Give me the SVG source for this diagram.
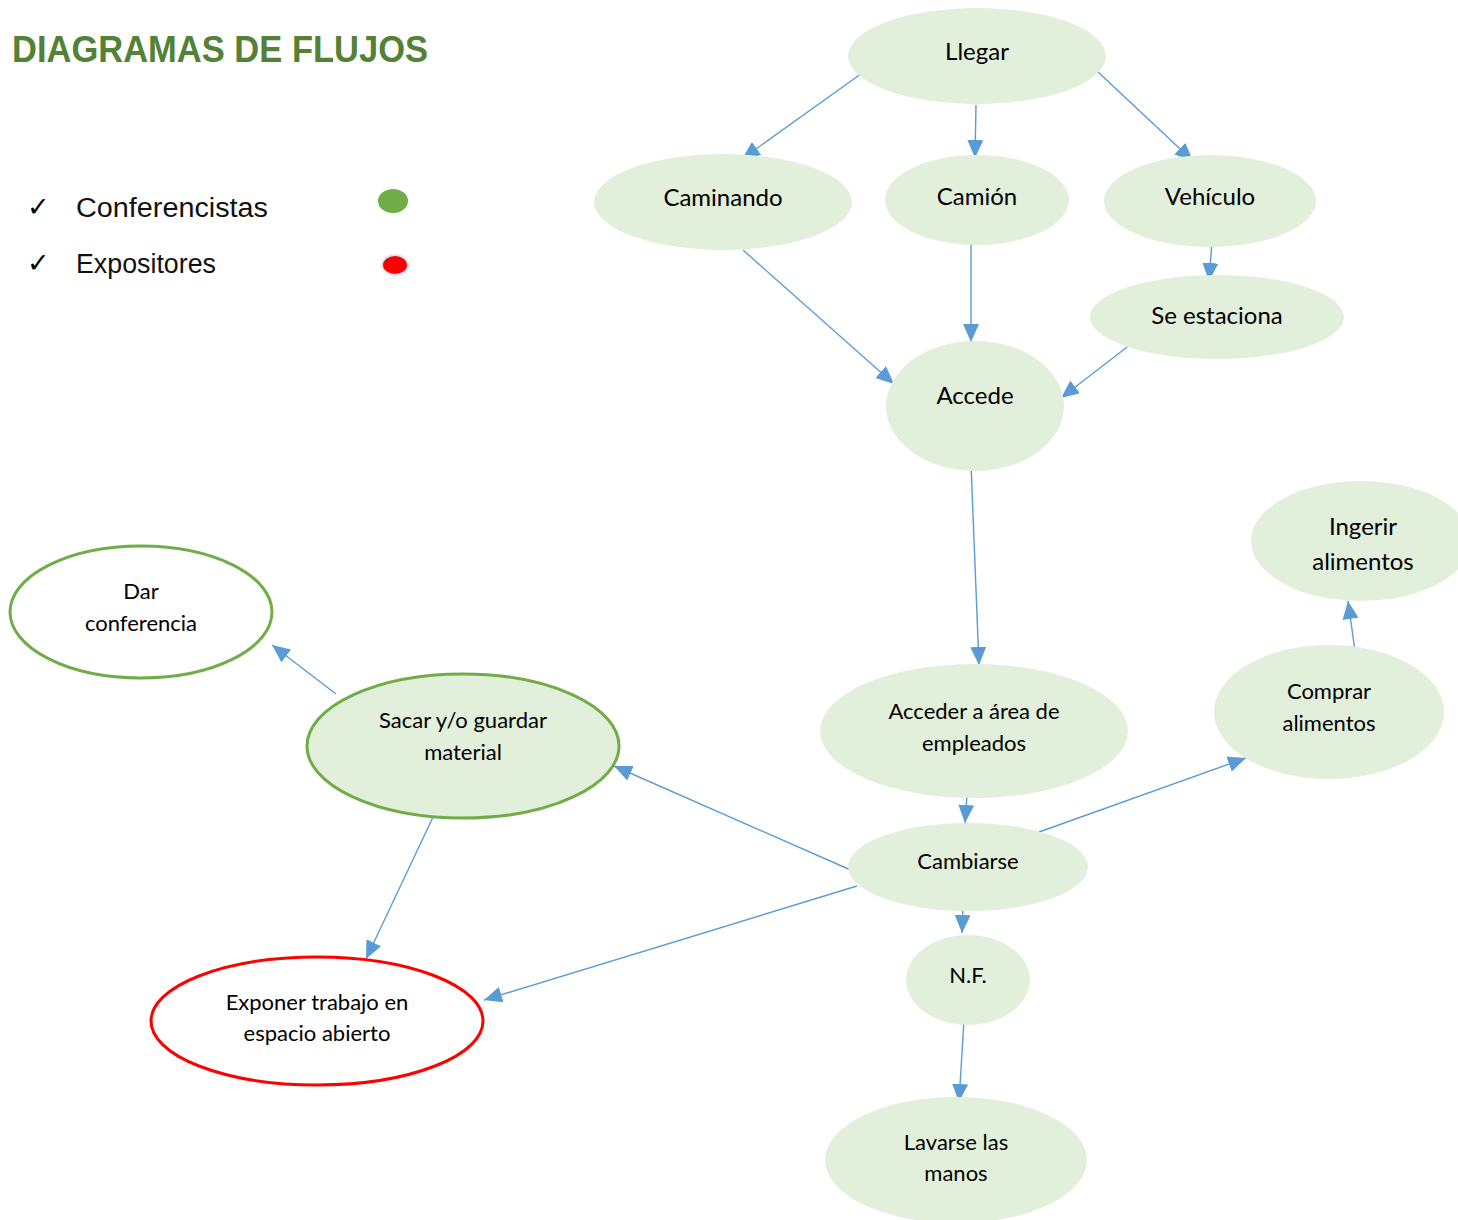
<svg xmlns="http://www.w3.org/2000/svg" width="1458" height="1220" viewBox="0 0 1458 1220">
<style>
.n{fill:#E2EFDA;stroke:none}
.g{stroke:#70AD47;stroke-width:3}
.r{fill:#FFFFFF;stroke:#FF0000;stroke-width:3}
.w{fill:#FFFFFF}
text{font-family:Lato,"Liberation Sans",sans-serif;fill:#000;text-anchor:middle}
.t1{font-size:24px}
.t2{font-size:22px}
.lg{font-family:"Liberation Sans",Arial,sans-serif;font-size:27px;text-anchor:start;fill:#111}
.ck{font-family:"DejaVu Sans",sans-serif;font-size:27px;text-anchor:start}
.e{stroke:#5B9BD5;stroke-width:1.4;fill:none;marker-end:url(#ah)}
</style>
<defs>
<marker id="ah" markerUnits="userSpaceOnUse" markerWidth="19" markerHeight="16" viewBox="0 0 19 16" refX="18" refY="8" orient="auto">
<path d="M0,0 L18,8 L0,16 Z" fill="#5B9BD5"/>
</marker>
</defs>
<rect width="1458" height="1220" fill="#FFFFFF"/>
<text x="12" y="62" style="font-family:'Liberation Sans',Arial,sans-serif;font-weight:bold;font-size:37px;fill:#538135;text-anchor:start" textLength="416" lengthAdjust="spacingAndGlyphs">DIAGRAMAS DE FLUJOS</text>
<g id="legend">
<text x="27" y="216" class="ck">✓</text>
<text x="76" y="217" class="lg" textLength="192" lengthAdjust="spacingAndGlyphs">Conferencistas</text>
<ellipse cx="393" cy="201" rx="15" ry="12" fill="#70AD47"/>
<text x="27" y="272" class="ck">✓</text>
<text x="76" y="273" class="lg" textLength="140" lengthAdjust="spacingAndGlyphs">Expositores</text>
<ellipse cx="395" cy="265" rx="13" ry="10" fill="#FF0000" stroke="#DCE6F2" stroke-width="2"/>
</g>
<g id="connectors">
<line class="e" x1="865" y1="71" x2="742" y2="159"/>
<line class="e" x1="976" y1="105" x2="975" y2="158"/>
<line class="e" x1="1098" y1="72" x2="1193" y2="161"/>
<line class="e" x1="743" y1="250" x2="894" y2="384"/>
<line class="e" x1="971" y1="241" x2="971" y2="342"/>
<line class="e" x1="1212" y1="241" x2="1209" y2="281"/>
<line class="e" x1="1131" y1="344" x2="1061" y2="398"/>
<line class="e" x1="971" y1="464" x2="979" y2="665"/>
<line class="e" x1="967" y1="795" x2="965" y2="823"/>
<line class="e" x1="1039" y1="832" x2="1246" y2="758"/>
<line class="e" x1="1355" y1="651" x2="1348" y2="601"/>
<line class="e" x1="862" y1="875" x2="614" y2="766"/>
<line class="e" x1="857" y1="886" x2="484" y2="1000"/>
<line class="e" x1="963" y1="905" x2="962" y2="933"/>
<line class="e" x1="964" y1="1020" x2="959" y2="1102"/>
<line class="e" x1="336" y1="694" x2="272" y2="645"/>
<line class="e" x1="434" y1="815" x2="366" y2="959"/>
</g>
<g id="llegar"><ellipse class="n" cx="977" cy="56" rx="129" ry="48"/><text class="t1" x="977" y="60">Llegar</text></g>
<g id="caminando"><ellipse class="n" cx="723" cy="202" rx="129" ry="48"/><text class="t1" x="723" y="206">Caminando</text></g>
<g id="camion"><ellipse class="n" cx="977" cy="200" rx="92" ry="45"/><text class="t1" x="977" y="205">Camión</text></g>
<g id="vehiculo"><ellipse class="n" cx="1210" cy="201" rx="106" ry="46"/><text class="t1" x="1210" y="205">Vehículo</text></g>
<g id="se-estaciona"><ellipse class="n" cx="1217" cy="317" rx="127" ry="42"/><text class="t1" x="1217" y="324">Se estaciona</text></g>
<g id="accede"><ellipse class="n" cx="975" cy="406" rx="89" ry="65"/><text class="t1" x="975" y="404">Accede</text></g>
<g id="ingerir"><ellipse class="n" cx="1361" cy="541" rx="110" ry="60"/><text class="t1" x="1363" y="535">Ingerir</text><text class="t1" x="1363" y="570">alimentos</text></g>
<g id="comprar"><ellipse class="n" cx="1329" cy="712" rx="115" ry="67"/><text class="t2" x="1329" y="699">Comprar</text><text class="t2" x="1329" y="731">alimentos</text></g>
<g id="acceder-area"><ellipse class="n" cx="974" cy="731" rx="154" ry="67"/><text class="t2" x="974" y="719">Acceder a área de</text><text class="t2" x="974" y="751">empleados</text></g>
<g id="cambiarse"><ellipse class="n" cx="968" cy="867" rx="120" ry="44"/><text class="t2" x="968" y="869">Cambiarse</text></g>
<g id="nf"><ellipse class="n" cx="968" cy="980" rx="62" ry="45"/><text class="t2" x="968" y="983">N.F.</text></g>
<g id="lavarse"><ellipse class="n" cx="956" cy="1160" rx="131" ry="63"/><text class="t2" x="956" y="1150">Lavarse las</text><text class="t2" x="956" y="1181">manos</text></g>
<g id="dar-conferencia"><ellipse class="w g" cx="141" cy="612" rx="131" ry="66"/><text class="t2" x="141" y="599">Dar</text><text class="t2" x="141" y="631">conferencia</text></g>
<g id="sacar"><ellipse class="n g" cx="463" cy="746" rx="156" ry="72"/><text class="t2" x="463" y="728">Sacar y/o guardar</text><text class="t2" x="463" y="760">material</text></g>
<g id="exponer"><ellipse class="r" cx="317" cy="1021" rx="166" ry="64"/><text class="t2" x="317" y="1010">Exponer trabajo en</text><text class="t2" x="317" y="1041">espacio abierto</text></g>
</svg>
